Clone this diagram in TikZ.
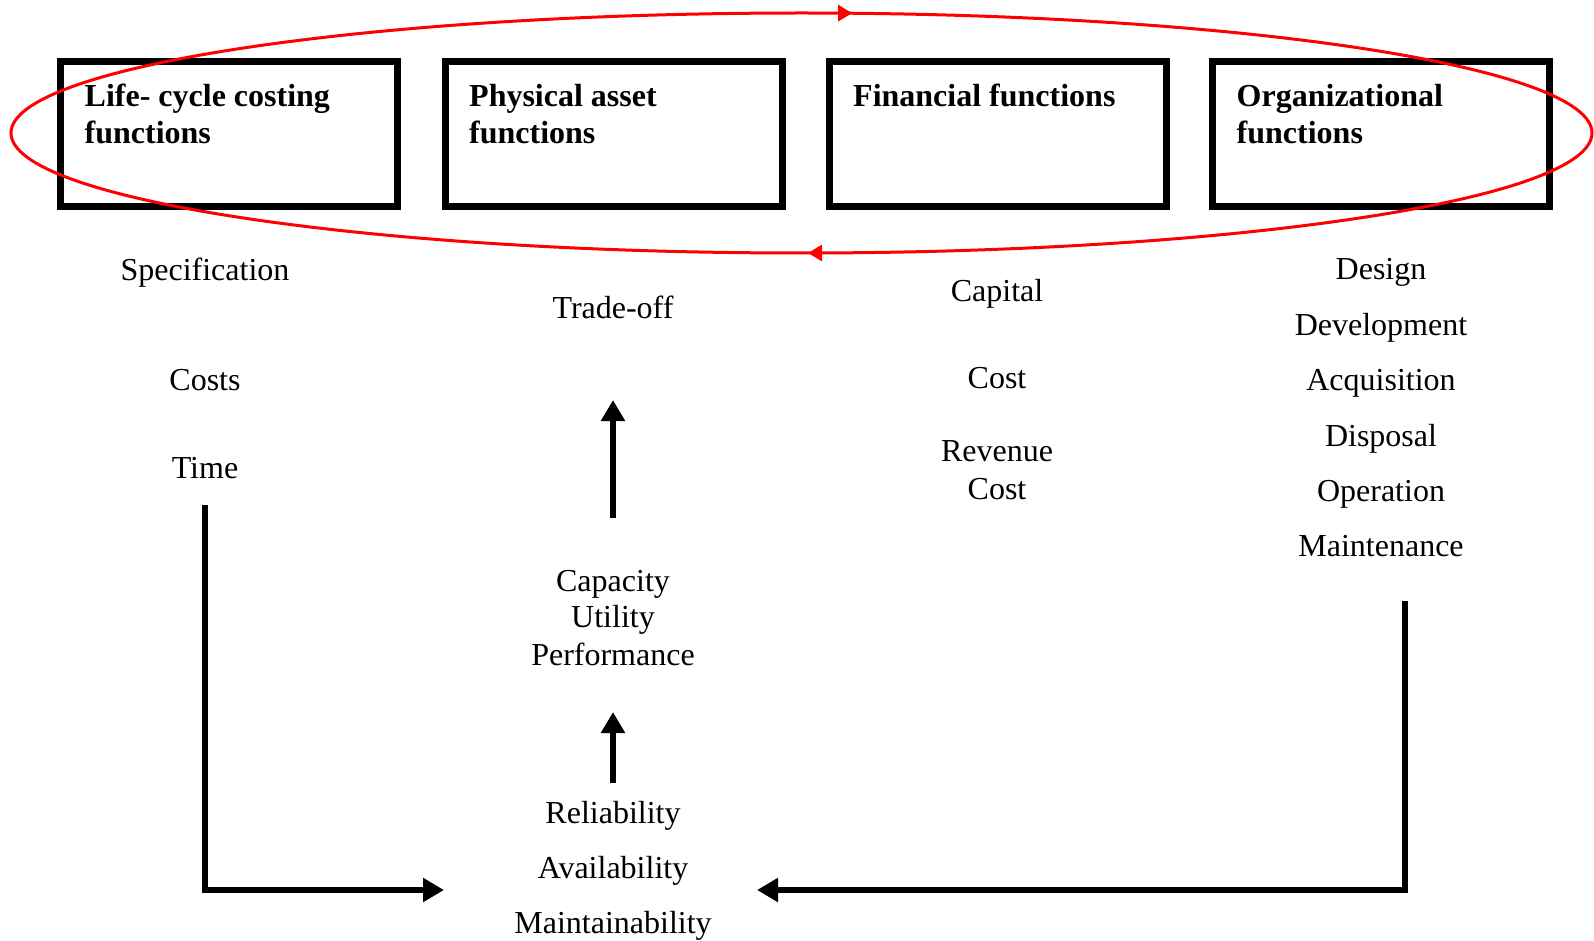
\documentclass[tikz,border=0pt]{standalone}
\usepackage{fontspec}
\setmainfont{Liberation Serif}
\usetikzlibrary{arrows.meta,calc,decorations.markings}

\tikzset{
  fnbox/.style={draw, rectangle, line width=7pt, outer sep=0pt,
    minimum width=337pt, minimum height=145pt},
  fntext/.style={anchor=north west, inner sep=0pt, align=left,
    font=\fontsize{32}{37}\selectfont\bfseries},
  item/.style={anchor=base, inner sep=0pt, font=\fontsize{32}{37}\selectfont},
  bigarrow/.style={line width=6pt, -{Triangle[length=21pt,width=23pt]}},
  cycleline/.style={red, line width=3pt, postaction={decorate},
    decoration={markings,
      mark=at position 0.248 with {\arrow{Triangle[length=14pt,width=16pt]}},
      mark=at position 0.7655 with {\arrow{Triangle[length=14pt,width=16pt]}}}}
}

\begin{document}
\begin{tikzpicture}[x=1pt,y=-1pt]
        \useasboundingbox (0,0) rectangle (1594,941);
        % function boxes
        \node[fnbox](LCC) at (229,134)  {};
        \node[fnbox](PA)  at (613.5,134) {};
        \node[fnbox](FIN) at (997.5,134) {};
        \node[fnbox](ORG) at (1381,134) {};
        \node[fntext] at ($(LCC.north west)+(24,22.5)$) {Life- cycle costing\\functions};
        \node[fntext] at ($(PA.north west)+(24,22.5)$)  {Physical asset\\functions};
        \node[fntext] at ($(FIN.north west)+(24,22.5)$) {Financial functions};
        \node[fntext] at ($(ORG.north west)+(24,22.5)$) {Organizational\\functions};
        % red cycle
        \draw[cycleline] (801.5,133) ellipse [x radius=790.5, y radius=120];
        % life-cycle costing
        \node[item](spec)  at (205,280) {Specification};
        \node[item](costs) at (205,390) {Costs};
        \node[item](time)  at (205,478) {Time};
        % physical asset
        \node[item](trade) at (613,318) {Trade-off};
        \node[item](capa)  at (613,591) {Capacity};
        \node[item](util)  at (613,627) {Utility};
        \node[item](perf)  at (613,665) {Performance};
        \node[item](rel)   at (613,823) {Reliability};
        \node[item](avail) at (613,878) {Availability};
        \node[item](maint) at (613,933) {Maintainability};
        % financial
        \node[item](capital) at (997,301) {Capital};
        \node[item](cost)    at (997,388) {Cost};
        \node[item](rev)     at (997,461) {Revenue};
        \node[item](revcost) at (997,499) {Cost};
        % organizational
        \node[item](design) at (1381,279) {Design};
        \node[item](devel)  at (1381,335) {Development};
        \node[item](acq)    at (1381,390) {Acquisition};
        \node[item](disp)   at (1381,446) {Disposal};
        \node[item](oper)   at (1381,501) {Operation};
        \node[item](mtce)   at (1381,556) {Maintenance};
        % connectors
        \coordinate (lstart) at (205,505);
        \coordinate (lend)   at (444,890);
        \coordinate (rstart) at (1405,601);
        \coordinate (rend)   at (757,890);
        \coordinate (upbot)  at (613,518);
        \coordinate (uptop)  at (613,400);
        \coordinate (lowbot) at (613,783);
        \coordinate (lowtop) at (613,712);
        \draw[bigarrow] (lstart) |- (lend);
        \draw[bigarrow] (rstart) |- (rend);
        \draw[bigarrow] (upbot) -- (uptop);
        \draw[bigarrow] (lowbot) -- (lowtop);
    \end{tikzpicture}
\end{document}
